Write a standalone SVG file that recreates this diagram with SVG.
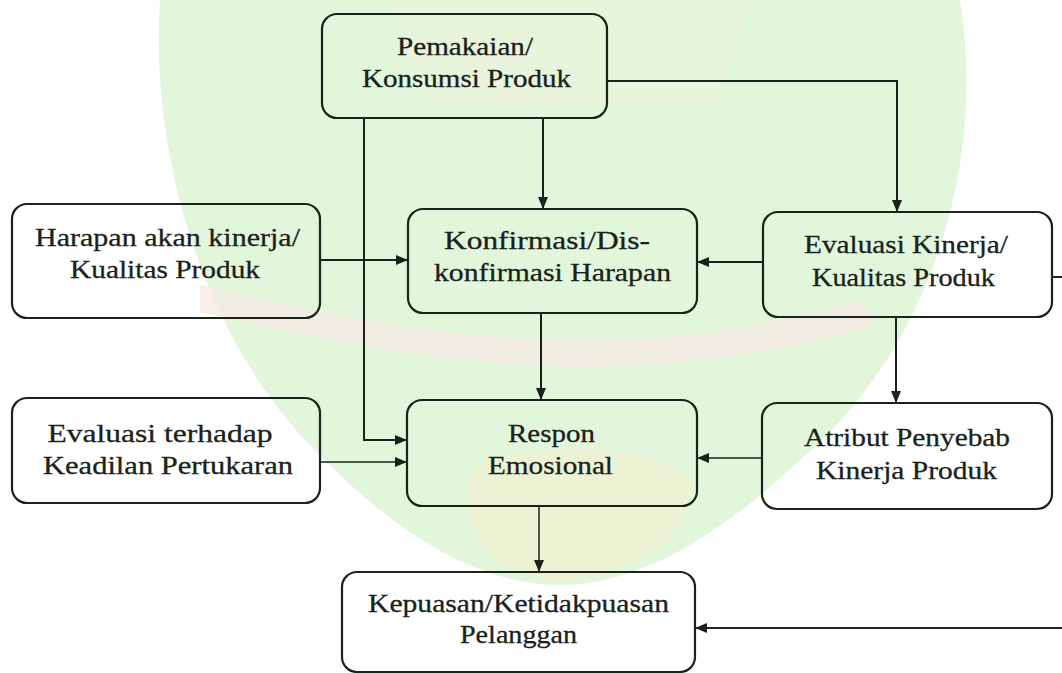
<svg xmlns="http://www.w3.org/2000/svg" width="1062" height="673" viewBox="0 0 1062 673">
<style>
.box{fill:none;stroke:#1b221b;stroke-width:2.2}
.t{font-size:26px;fill:#1a221a;stroke:#1a221a;stroke-width:0.3;text-anchor:middle}
.c{fill:none;stroke:#1b221b;stroke-width:2}
.thin{stroke-width:1.5}
</style>
<defs>
<marker id="ah" viewBox="0 0 12 10" markerWidth="12" markerHeight="10" refX="12" refY="5" orient="auto" markerUnits="userSpaceOnUse">
<path d="M0,0 L12,5 L0,10 Z" fill="#1b221b"/>
</marker>
</defs>
<rect width="1062" height="673" fill="#ffffff"/>
<g id="watermark">
<path d="M160 0 L960 0 C985 150 940 340 800 460 C720 535 640 585 560 585 C480 585 400 535 330 465 C200 345 150 150 160 0 Z" fill="#e2f6dc"/>
<path d="M200 285 C400 330 600 375 860 300 L875 325 C620 400 400 360 200 312 Z" fill="#f6ebe4" opacity="0.8"/>
<path d="M470 470 C520 440 640 440 690 480 C700 540 620 580 560 580 C500 580 455 540 470 470 Z" fill="#f5f0cf" opacity="0.6"/>
<path d="M390 0 L750 0 L715 105 L425 105 Z" fill="#eef4dc" opacity="0.6"/>
</g>
<g id="connectors">
<path class="c" d="M543 118 V209" marker-end="url(#ah)"/>
<path class="c" d="M607 81 H897 V212" marker-end="url(#ah)"/>
<path class="c" d="M364 118 V440 H407" marker-end="url(#ah)"/>
<path class="c" d="M320 260 H408" stroke-width="2.5" marker-end="url(#ah)"/>
<path class="c" d="M763 262 H697" stroke-width="2.5" marker-end="url(#ah)"/>
<path class="c" d="M541 313 V400" marker-end="url(#ah)"/>
<path class="c thin" d="M320 462 H407" marker-end="url(#ah)"/>
<path class="c" d="M896 317 V403" marker-end="url(#ah)"/>
<path class="c thin" d="M762 458 H697" marker-end="url(#ah)"/>
<path class="c thin" d="M539 506 V572" marker-end="url(#ah)"/>
<path class="c" d="M1052 277 H1064 V628 H695" marker-end="url(#ah)"/>
</g>
<g font-family="Liberation Serif, Times New Roman, serif">
<g id="pemakaian">
<rect class="box" x="322" y="14" width="285" height="104" rx="15"/>
<text class="t" x="465" y="55" textLength="136" lengthAdjust="spacingAndGlyphs">Pemakaian/</text>
<text class="t" x="466.5" y="87" textLength="209" lengthAdjust="spacingAndGlyphs">Konsumsi Produk</text>
</g>
<g id="harapan">
<rect class="box" x="12" y="204" width="308" height="114" rx="15"/>
<text class="t" x="167.5" y="246" textLength="265" lengthAdjust="spacingAndGlyphs">Harapan akan kinerja/</text>
<text class="t" x="165" y="278" textLength="190" lengthAdjust="spacingAndGlyphs">Kualitas Produk</text>
</g>
<g id="konfirmasi">
<rect class="box" x="408" y="209" width="289" height="104" rx="15"/>
<text class="t" x="547" y="249" textLength="206" lengthAdjust="spacingAndGlyphs">Konfirmasi/Dis-</text>
<text class="t" x="552.5" y="281" textLength="237" lengthAdjust="spacingAndGlyphs">konfirmasi Harapan</text>
</g>
<g id="evaluasi-kinerja">
<rect class="box" x="763" y="212" width="289" height="105" rx="15"/>
<text class="t" x="906" y="253" textLength="204" lengthAdjust="spacingAndGlyphs">Evaluasi Kinerja/</text>
<text class="t" x="903.5" y="286" textLength="183" lengthAdjust="spacingAndGlyphs">Kualitas Produk</text>
</g>
<g id="evaluasi-keadilan">
<rect class="box" x="12" y="398" width="308" height="105" rx="15"/>
<text class="t" x="160" y="442" textLength="225" lengthAdjust="spacingAndGlyphs">Evaluasi terhadap</text>
<text class="t" x="168" y="474" textLength="250" lengthAdjust="spacingAndGlyphs">Keadilan Pertukaran</text>
</g>
<g id="respon">
<rect class="box" x="407" y="400" width="290" height="106" rx="15"/>
<text class="t" x="551.5" y="442" textLength="87" lengthAdjust="spacingAndGlyphs">Respon</text>
<text class="t" x="550.5" y="474" textLength="125" lengthAdjust="spacingAndGlyphs">Emosional</text>
</g>
<g id="atribut">
<rect class="box" x="762" y="403" width="290" height="106" rx="15"/>
<text class="t" x="907" y="446" textLength="206" lengthAdjust="spacingAndGlyphs">Atribut Penyebab</text>
<text class="t" x="906.5" y="479" textLength="181" lengthAdjust="spacingAndGlyphs">Kinerja Produk</text>
</g>
<g id="kepuasan">
<rect class="box" x="342" y="572" width="353" height="100" rx="15"/>
<text class="t" x="518.5" y="612" textLength="301" lengthAdjust="spacingAndGlyphs">Kepuasan/Ketidakpuasan</text>
<text class="t" x="518.5" y="643" textLength="117" lengthAdjust="spacingAndGlyphs">Pelanggan</text>
</g>
</g>
</svg>
